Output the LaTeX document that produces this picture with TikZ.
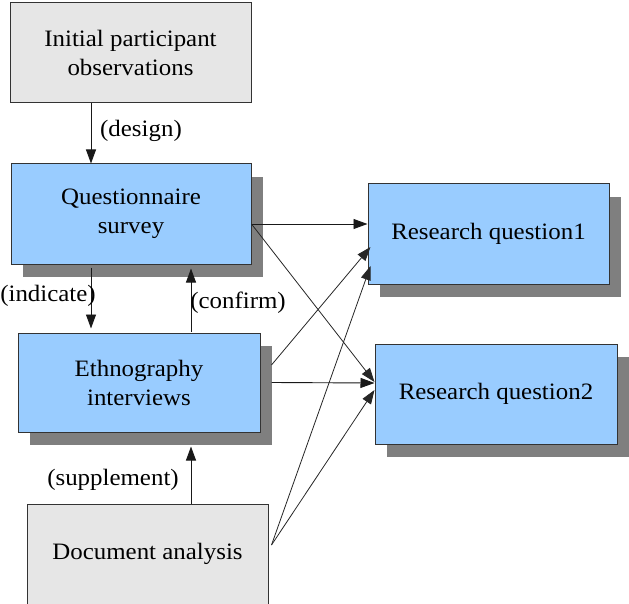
\documentclass[tikz,border=0pt]{standalone}
\usepackage{fontspec}
\setmainfont[FakeStretch=1.06]{Liberation Serif}
\usetikzlibrary{arrows.meta,shadows}
\definecolor{boxblue}{HTML}{99CCFF}
\definecolor{boxgray}{HTML}{E6E6E6}
\definecolor{edge}{HTML}{333333}
\begin{document}
\begin{tikzpicture}[x=1pt,y=-1pt,
  every node/.style={font=\rmfamily\fontsize{23.5}{29}\selectfont, text=black},
  box/.style={draw=edge, line width=1pt, minimum height=100pt, inner sep=0pt, align=center},
  bluebox/.style={box, fill=boxblue, minimum width=241pt,
    drop shadow={shadow xshift=12pt, shadow yshift=-13pt, fill=black, opacity=0.5}},
  graybox/.style={box, fill=boxgray, minimum width=241pt},
  tip/.tip={Triangle[length=14pt,width=10pt]},
  arr/.style={draw=black!90, line width=0.9pt, -tip},
  thin arr/.style={draw=black!85, line width=0.8pt, -tip},
  lbl/.style={inner sep=0pt}
]
\useasboundingbox (0,0) rectangle (629,604);
\clip (0,0) rectangle (629,603.5);

% source boxes
\node[graybox] (init) at (130.5,53) {Initial participant\\observations};
\node[bluebox, minimum width=240pt] (qs) at (131,214) {Questionnaire\\survey};
\node[bluebox, minimum width=242pt, minimum height=99pt] (eth) at (139,382.5) {Ethnography\\interviews};
\node[graybox] (doc) at (147.5,554) {Document analysis};

% research questions
\node[bluebox] (rq1) at (488.5,234) {Research question1};
\node[bluebox, minimum width=242pt] (rq2) at (496,394) {Research question2};

% vertical flow on the left
\draw[arr] ([xshift=-39.5pt]init.south) coordinate (d0) -- (d0 |- qs.north);
\draw[arr, shorten <=3pt, shorten >=4pt] ([xshift=-40pt]qs.south) coordinate (i0) -- (i0 |- eth.north);
\draw[arr, shorten <=1pt, shorten >=4pt] ([xshift=52pt]eth.north) coordinate (c0) -- (c0 |- qs.south);
\draw[arr, shorten >=14pt] ([xshift=43.5pt]doc.north) coordinate (s0) -- (s0 |- eth.south);

% labels on the vertical arrows
\node[lbl] (lDesign) at (141,131) {(design)};
\node[lbl] (lIndicate) at (48,296) {(indicate)};
\node[lbl] (lConfirm) at (238,303) {(confirm)};
\node[lbl] (lSupplement) at (113,480) {(supplement)};

% links to the research questions
\draw[arr] ([yshift=-10pt]qs.east) -- ([yshift=10pt]rq1.west);
\draw[thin arr] ([yshift=-10pt]qs.east) -- ([yshift=12pt]rq2.west);
\draw[thin arr] ([xshift=11pt,yshift=17.5pt]eth.east) -- ([xshift=3pt,yshift=-13pt]rq1.west);
\draw[arr] ([xshift=11pt]eth.east) -- ([yshift=11pt]rq2.west);
\draw[thin arr] ([xshift=3pt,yshift=9pt]doc.east) coordinate (dx) -- ([xshift=3pt,yshift=-32pt]rq1.west);
\draw[thin arr] (dx) -- ([yshift=4pt]rq2.west);
\end{tikzpicture}
\end{document}
